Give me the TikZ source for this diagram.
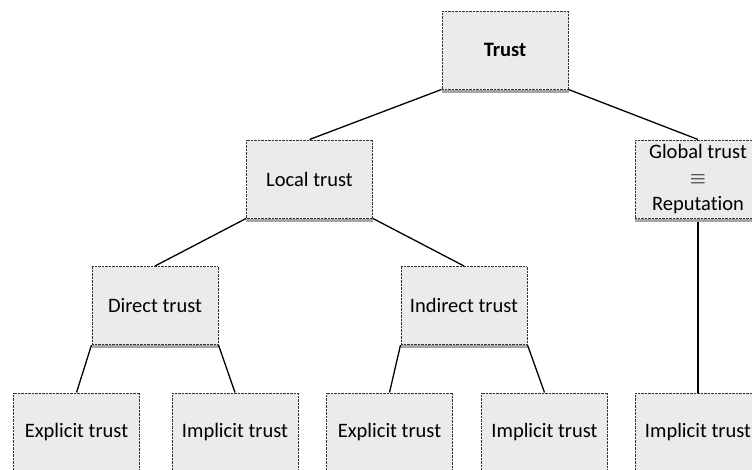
\documentclass[tikz,border=0pt]{standalone}
\usepackage{fontspec}
\setmainfont{Carlito}[Ligatures=NoCommon]
\begin{document}
\begin{tikzpicture}[x=1pt,y=-1pt,
  box/.style={draw=black!80, line width=1pt, dash pattern=on 1pt off 0.4pt,
    fill=black!8, minimum width=126pt, minimum height=78pt, inner sep=0pt,
    align=center, font=\fontsize{20.5}{26}\selectfont},
  link/.style={black, line width=1.3pt}]
\useasboundingbox (0,0) rectangle (752,469);
\clip (0,0) rectangle (752,469);
\node[box] (trust) at (505,50) {\textbf{Trust}};
\node[box] (local) at (309.5,179) {Local trust};
\node[box] (global) at (698,179) {Global trust\\$\equiv$\\Reputation};
\node[box] (direct) at (155,305.5) {Direct trust};
\node[box] (indirect) at (464,305.5) {Indirect trust};
\node[box] (e1) at (76.5,432) {Explicit trust};
\node[box] (i1) at (235,432) {Implicit trust};
\node[box] (e2) at (389.5,432) {Explicit trust};
\node[box] (i2) at (544.5,432) {Implicit trust};
\node[box] (i3) at (698,432) {Implicit trust};
\foreach \n in {trust,local,global,direct,indirect}
  \fill[black!35] (\n.south west) rectangle ([yshift=-3pt]\n.south east);
\draw[link] (trust.south west) -- (local.north);
\draw[link] (trust.south east) -- (global.north);
\draw[link] (local.south west) -- (direct.north);
\draw[link] (local.south east) -- (indirect.north);
\draw[link] (direct.south west) -- (e1.north);
\draw[link] (direct.south east) -- (i1.north);
\draw[link] (indirect.south west) -- (e2.north);
\draw[link] (indirect.south east) -- (i2.north);
\draw[link] ([yshift=-3pt]global.south) -- (i3.north);
\end{tikzpicture}
\end{document}
